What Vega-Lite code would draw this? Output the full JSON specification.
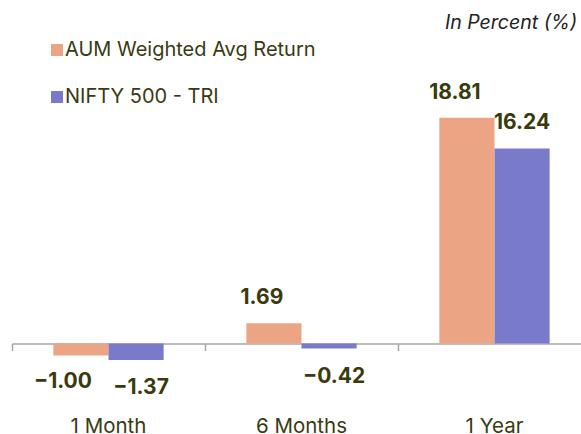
{
  "$schema": "https://vega.github.io/schema/vega-lite/v6.json",
  "width": 579,
  "height": 394,
  "autosize": "none",
  "padding": {"left": 12, "top": 40, "right": 0, "bottom": 0},
  "background": "white",
  "title": {"text": "In Percent (%)", "orient": "top", "anchor": "end", "frame": "group", "dx": -14, "dy": 17, "offset": 9, "baseline": "alphabetic", "font": "Inter", "fontSize": 19.5, "fontStyle": "italic", "fontWeight": "normal", "color": "#222222"},
  "config": {"view": {"stroke": null}, "font": "Inter"},
  "data": {"values": [
    {"period": "1 Month", "series": "AUM Weighted Avg Return", "value": -1.00},
    {"period": "1 Month", "series": "NIFTY 500 - TRI", "value": -1.37},
    {"period": "6 Months", "series": "AUM Weighted Avg Return", "value": 1.69},
    {"period": "6 Months", "series": "NIFTY 500 - TRI", "value": -0.42},
    {"period": "1 Year", "series": "AUM Weighted Avg Return", "value": 18.81},
    {"period": "1 Year", "series": "NIFTY 500 - TRI", "value": 16.24}
  ]},
  "encoding": {
    "x": {"field": "period", "type": "nominal", "sort": ["1 Month", "6 Months", "1 Year"], "scale": {"paddingInner": 0, "paddingOuter": 0}, "axis": null},
    "xOffset": {"field": "series", "type": "nominal", "sort": ["AUM Weighted Avg Return", "NIFTY 500 - TRI"], "scale": {"paddingInner": 0, "paddingOuter": 0.75}},
    "y": {"field": "value", "type": "quantitative", "scale": {"domain": [-7.54, 25.29], "nice": false, "zero": false}, "axis": null}
  },
  "layer": [
    {
      "mark": {"type": "bar"},
      "encoding": {
        "x": {"field": "period", "type": "nominal", "sort": ["1 Month", "6 Months", "1 Year"], "scale": {"paddingInner": 0, "paddingOuter": 0},
          "axis": {"orient": "bottom", "offset": -90.5, "labels": false, "title": null, "domainColor": "#A6A6A6", "domainWidth": 1.5, "tickBand": "extent", "tickSize": 7, "tickColor": "#A6A6A6", "tickWidth": 1.5}},
        "color": {"field": "series", "type": "nominal", "sort": ["AUM Weighted Avg Return", "NIFTY 500 - TRI"],
          "scale": {"domain": ["AUM Weighted Avg Return", "NIFTY 500 - TRI"], "range": ["#EBA585", "#7A7ACB"]},
          "legend": {"orient": "none", "legendX": 35, "legendY": 0, "title": null, "symbolType": "square", "symbolSize": 144, "symbolStrokeWidth": 0, "labelFontSize": 20, "labelColor": "#3A3A12", "labelFont": "Inter", "labelLimit": 0, "rowPadding": 27, "labelOffset": -2, "padding": 0}}
      }
    },
    {
      "transform": [{"filter": "datum.series === 'AUM Weighted Avg Return' && datum.value >= 0"}],
      "mark": {"type": "text", "dy": -25, "dx": -12, "fontSize": 21, "fontWeight": "bold", "color": "#3A3A0C", "baseline": "middle"},
      "encoding": {"text": {"field": "value", "type": "quantitative", "format": ".2f"},
        "x": {"field": "period", "type": "nominal", "sort": ["1 Month", "6 Months", "1 Year"], "scale": {"paddingInner": 0, "paddingOuter": 0},
          "axis": {"orient": "bottom", "offset": -20, "domain": false, "ticks": false, "title": null, "labelAngle": 0, "labelBaseline": "alphabetic", "labelPadding": 18, "labelFontSize": 20.5, "labelColor": "#3A3A12", "labelFont": "Inter"}}}
    },
    {
      "transform": [{"filter": "datum.series === 'AUM Weighted Avg Return' && datum.value < 0"}],
      "mark": {"type": "text", "dy": 26, "dx": -18, "fontSize": 21, "fontWeight": "bold", "color": "#3A3A0C", "baseline": "middle"},
      "encoding": {"text": {"field": "value", "type": "quantitative", "format": ".2f"}}
    },
    {
      "transform": [{"filter": "datum.series === 'NIFTY 500 - TRI' && datum.value >= 0"}],
      "mark": {"type": "text", "dy": -26, "fontSize": 21, "fontWeight": "bold", "color": "#3A3A0C", "baseline": "middle"},
      "encoding": {"text": {"field": "value", "type": "quantitative", "format": ".2f"}}
    },
    {
      "transform": [{"filter": "datum.series === 'NIFTY 500 - TRI' && datum.value < 0"}],
      "mark": {"type": "text", "dy": 28, "dx": 5, "fontSize": 21, "fontWeight": "bold", "color": "#3A3A0C", "baseline": "middle"},
      "encoding": {"text": {"field": "value", "type": "quantitative", "format": ".2f"}}
    }
  ],
  "resolve": {"axis": {"x": "independent"}}
}
